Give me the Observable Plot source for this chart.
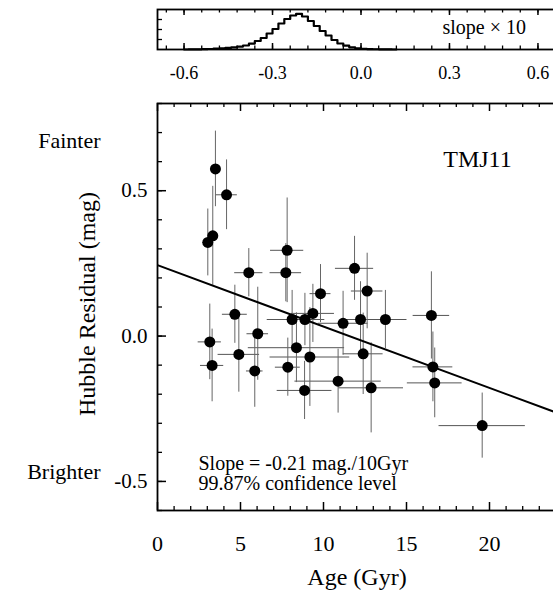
<!DOCTYPE html>
<html>
<head>
<meta charset="utf-8">
<script src="https://cdn.jsdelivr.net/npm/d3@7"></script>
<script src="https://cdn.jsdelivr.net/npm/@observablehq/plot@0.6"></script>
<style>
  html, body { margin: 0; padding: 0; background: #fff; overflow: hidden; }
  #wrap { position: relative; width: 553px; height: 590px; overflow: hidden; background: #fff; }
  #inset, #main { position: absolute; left: 0; }
  #inset { top: 0; }
  #main { top: 90px; }
  svg { max-width: none !important; }
</style>
</head>
<body>
<div id="wrap"><div id="inset"></div><div id="main"></div></div>
<script>
// ---- Data: SN Ia host ages vs Hubble residuals ----
const ages      = [3.49, 4.16, 3.03, 3.33, 7.81, 7.73, 5.50, 11.87, 12.63, 9.82, 4.66,
                   8.11, 8.88, 9.36, 11.18, 12.23, 13.73, 16.50, 3.15, 3.29, 4.90,
                   6.04, 5.86, 8.37, 7.85, 9.18, 8.86, 10.88, 12.39, 12.87, 16.59, 16.70, 19.56];
const residuals = [0.575, 0.486, 0.322, 0.345, 0.295, 0.218, 0.218, 0.233, 0.155, 0.146, 0.075,
                   0.057, 0.057, 0.078, 0.044, 0.057, 0.057, 0.071, -0.020, -0.101, -0.063,
                   0.008, -0.120, -0.040, -0.107, -0.072, -0.187, -0.155, -0.061, -0.178, -0.106, -0.161, -0.308];
const ageErr    = [0.3, 0.65, 0.3, 0.3, 1.0, 0.95, 0.85, 1.15, 0.95, 0.63, 0.75,
                   1.5, 1.2, 1.3, 1.5, 0.9, 1.3, 1.1, 0.7, 0.7, 1.25,
                   0.65, 0.5, 2.9, 0.75, 2.4, 1.65, 2.6, 1.2, 1.95, 1.2, 1.65, 2.6];
const resErr    = [0.13, 0.12, 0.115, 0.17, 0.18, 0.10, 0.083, 0.11, 0.13, 0.10, 0.10,
                   0.10, 0.09, 0.10, 0.11, 0.13, 0.10, 0.15, 0.13, 0.125, 0.13,
                   0.16, 0.125, 0.12, 0.10, 0.17, 0.10, 0.11, 0.14, 0.155, 0.12, 0.12, 0.112];

// best-fit line end points
const fitAge = [0, 25];
const fitRes = [0.244, -0.284];

// posterior of slope (x 10): bin centres and heights
const slopeBins = [-0.60, -0.57, -0.55, -0.53, -0.51, -0.49, -0.47, -0.45, -0.43, -0.41, -0.39, -0.37,
                   -0.35, -0.33, -0.31, -0.29, -0.27, -0.25, -0.23, -0.21, -0.19, -0.17, -0.15,
                   -0.13, -0.11, -0.09, -0.07, -0.05, -0.03, -0.01, 0.01, 0.03, 0.05, 0.07, 0.09, 0.12];
const slopeCounts = [0, 0.1, 0.2, 0.3, 0.5, 0.8, 1.2, 1.6, 2.1, 2.9, 4.0, 5.9,
                     8.5, 11.5, 16.0, 20.5, 26.0, 30.5, 34.0, 35.7, 33.0, 28.5, 23.5,
                     18.5, 14.0, 9.5, 6.0, 3.8, 2.2, 1.2, 0.7, 0.4, 0.25, 0.15, 0.08, 0];

// ticks
const xMajor = [0, 5, 10, 15, 20, 25];
const xMinor = d3.range(0, 26, 1);
const yMajor = [-0.5, 0, 0.5];
const yMinor = d3.range(-6, 9).map(d => d / 10);
const xLabels = [0, 5, 10, 15, 20];
const insetMajor = [-0.6, -0.3, 0, 0.3, 0.6];
const insetMinor = d3.range(-11, 12).map(d => d * 0.06);
const insetY = [10, 20, 30];

const serif = "'Liberation Serif', 'Times New Roman', Times, serif";
const W = 580;

const pts = ages.map((a, i) => ({age: a, res: residuals[i], ae: ageErr[i], re: resErr[i]}));
const fit = fitAge.map((a, i) => ({age: a, res: fitRes[i]}));
const hist = slopeBins.map((s, i) => ({s, h: slopeCounts[i]}));

// ---- main panel ----
const mT = 13, mB = 80, mL = 157, mR = 8, H = 500;
const fh = H - mT - mB, fw = W - mL - mR;
const fmt = d => d.toFixed(1);

const main = Plot.plot({
  width: W, height: H,
  marginLeft: mL, marginRight: mR, marginTop: mT, marginBottom: mB,
  x: {domain: [0, 25]},
  y: {domain: [-0.6, 0.8]},
  style: {fontFamily: serif, background: "transparent", overflow: "visible", color: "black", maxWidth: "none"},
  marks: [
    Plot.ruleY(pts, {y: "res", x1: d => d.age - d.ae, x2: d => d.age + d.ae, stroke: "#555", strokeWidth: 1}),
    Plot.ruleX(pts, {x: "age", y1: d => d.res - d.re, y2: d => d.res + d.re, stroke: "#666", strokeWidth: 1}),
    Plot.line(fit, {x: "age", y: "res", stroke: "black", strokeWidth: 2, clip: true}),
    Plot.dot(pts, {x: "age", y: "res", r: 5.5, fill: "black", stroke: "none"}),
    // inward ticks
    Plot.tickX(xMinor.filter(d => d % 5), {x: d => d, insetTop: fh - 4, stroke: "black", strokeWidth: 1.3}),
    Plot.tickX(xMinor.filter(d => d % 5), {x: d => d, insetBottom: fh - 4, stroke: "black", strokeWidth: 1.3}),
    Plot.tickX(xMajor, {x: d => d, insetTop: fh - 8, stroke: "black", strokeWidth: 1.5}),
    Plot.tickX(xMajor, {x: d => d, insetBottom: fh - 8, stroke: "black", strokeWidth: 1.5}),
    Plot.tickY(yMinor, {y: d => d, insetRight: fw - 5, stroke: "black", strokeWidth: 1.3}),
    Plot.tickY(yMinor, {y: d => d, insetLeft: fw - 5, stroke: "black", strokeWidth: 1.3}),
    Plot.tickY(yMajor, {y: d => d, insetRight: fw - 9, stroke: "black", strokeWidth: 1.5}),
    Plot.tickY(yMajor, {y: d => d, insetLeft: fw - 9, stroke: "black", strokeWidth: 1.5}),
    Plot.frame({stroke: "black", strokeWidth: 1.8}),
    Plot.axisX({ticks: xLabels, tickSize: 0, tickPadding: 25, tickFormat: d => String(d),
                fontSize: 22, fontFamily: serif, label: null}),
    Plot.axisY({ticks: yMajor, tickSize: 0, tickPadding: 10, tickFormat: fmt,
                fontSize: 21, fontFamily: serif, label: null}),
    Plot.text(["Age (Gyr)"], {frameAnchor: "bottom", dx: -8, dy: 74, lineAnchor: "bottom",
                              fontSize: 24, fontFamily: serif, fill: "black"}),
    Plot.text(["Hubble Residual (mag)"], {frameAnchor: "left", dx: -63, dy: -3, rotate: -90,
                              lineAnchor: "bottom", textAnchor: "middle", fontSize: 24, fontFamily: serif, fill: "black"}),
    Plot.text(["Fainter"], {frameAnchor: "top-left", dx: -57, dy: 44, lineAnchor: "bottom",
                              textAnchor: "end", fontSize: 22, fontFamily: serif, fill: "black"}),
    Plot.text(["Brighter"], {frameAnchor: "bottom-left", dx: -57, dy: -32, lineAnchor: "bottom",
                              textAnchor: "end", fontSize: 22, fontFamily: serif, fill: "black"}),
    Plot.text(["TMJ11"], {frameAnchor: "top-left", dx: 320, dy: 63, lineAnchor: "bottom",
                              textAnchor: "middle", fontSize: 24, fontFamily: serif, fill: "black"}),
    Plot.text(["Slope = -0.21 mag./10Gyr\n99.87% confidence level"], {frameAnchor: "bottom-left", dx: 41, dy: -21,
                              lineAnchor: "bottom", textAnchor: "start", lineHeight: 1.0,
                              fontSize: 20, fontFamily: serif, fill: "black"})
  ]
});
document.getElementById("main").appendChild(main);

// ---- inset: slope posterior ----
const iT = 9, iB = 41, iL = 157, iH = 90, iR = W - 564;
const ifh = iH - iT - iB, ifw = W - iL - iR;
const inset = Plot.plot({
  width: W, height: iH,
  marginLeft: iL, marginRight: iR, marginTop: iT, marginBottom: iB,
  x: {domain: [-0.69, 0.69]},
  y: {domain: [0, 40], axis: null},
  style: {fontFamily: serif, background: "transparent", overflow: "visible", color: "black", maxWidth: "none"},
  marks: [
    Plot.lineY(hist, {x: "s", y: "h", curve: "step", stroke: "black", strokeWidth: 2.2}),
    Plot.tickX(insetMinor, {x: d => d, insetTop: ifh - 3.5, stroke: "black", strokeWidth: 1.3}),
    Plot.tickX(insetMinor, {x: d => d, insetBottom: ifh - 3.5, stroke: "black", strokeWidth: 1.3}),
    Plot.tickX(insetMajor, {x: d => d, insetTop: ifh - 6, stroke: "black", strokeWidth: 1.5}),
    Plot.tickX(insetMajor, {x: d => d, insetBottom: ifh - 6, stroke: "black", strokeWidth: 1.5}),
    Plot.tickY(insetY, {y: d => d, insetRight: ifw - 5, stroke: "black", strokeWidth: 1.3}),
    Plot.tickY(insetY, {y: d => d, insetLeft: ifw - 5, stroke: "black", strokeWidth: 1.3}),
    Plot.frame({stroke: "black", strokeWidth: 1.8}),
    Plot.axisX({ticks: insetMajor, tickSize: 0, tickPadding: 17, tickFormat: fmt,
                fontSize: 18, fontFamily: serif, label: null}),
    Plot.text(["slope × 10"], {frameAnchor: "top-left", dx: 285, dy: 24, lineAnchor: "bottom",
                               textAnchor: "start", fontSize: 20, fontFamily: serif, fill: "black"})
  ]
});
document.getElementById("inset").appendChild(inset);
</script>
</body>
</html>
